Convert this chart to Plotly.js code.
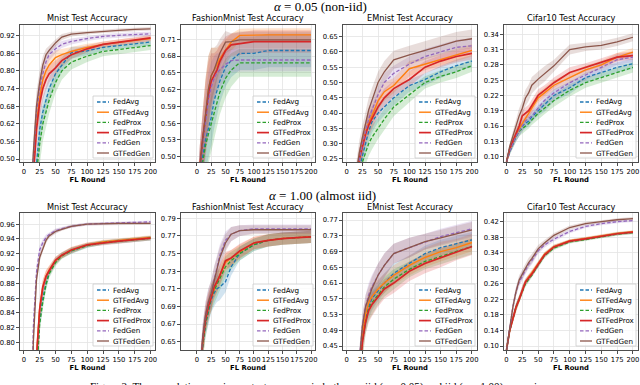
<!DOCTYPE html>
<html>
<head>
<meta charset="utf-8">
<script src="https://cdn.plot.ly/plotly-3.0.1.min.js"></script>
<style>body{margin:0;background:#fff}</style>
</head>
<body>
<div id="chart" style="width:640px;height:385px"></div>
<script>
const ROUNDS = [0, 5, 10, 15, 20, 25, 30, 35, 40, 50, 60, 75, 100, 125, 150, 175, 200];
const ROUND_TICKS = [0, 25, 50, 75, 100, 125, 150, 175, 200];

const SERIES = ['FedAvg', 'GTFedAvg', 'FedProx', 'GTFedProx', 'FedGen', 'GTFedGen'];
const TITLES = ['Mnist Test Accuracy', 'FashionMnist Test Accuracy', 'EMnist Test Accuracy', 'Cifar10 Test Accuracy'];

// ---- alpha = 0.05 (non-iid) : mean, one row per series ----
const mnistNonIid = [
  [0.10, 0.12, 0.18, 0.30, 0.48, 0.60, 0.66, 0.70, 0.74, 0.79, 0.82, 0.862, 0.868, 0.88, 0.886, 0.892, 0.898],
  [0.10, 0.15, 0.25, 0.45, 0.62, 0.71, 0.77, 0.80, 0.82, 0.845, 0.855, 0.866, 0.88, 0.89, 0.897, 0.903, 0.91],
  [0.10, 0.12, 0.16, 0.28, 0.45, 0.55, 0.62, 0.66, 0.70, 0.76, 0.80, 0.83, 0.85, 0.866, 0.873, 0.879, 0.886],
  [0.10, 0.15, 0.24, 0.44, 0.60, 0.69, 0.74, 0.77, 0.79, 0.81, 0.835, 0.855, 0.875, 0.89, 0.898, 0.905, 0.912],
  [0.10, 0.15, 0.28, 0.50, 0.66, 0.74, 0.79, 0.83, 0.855, 0.875, 0.89, 0.90, 0.91, 0.917, 0.921, 0.924, 0.926],
  [0.10, 0.16, 0.30, 0.52, 0.68, 0.76, 0.82, 0.855, 0.87, 0.895, 0.915, 0.925, 0.93, 0.935, 0.938, 0.941, 0.943]
];
const mnistNonIidStd = [
  [0.02, 0.03, 0.05, 0.06, 0.07, 0.06, 0.05, 0.045, 0.04, 0.03, 0.025, 0.02, 0.015, 0.012, 0.012, 0.012, 0.012],
  [0.02, 0.03, 0.05, 0.06, 0.06, 0.05, 0.04, 0.03, 0.03, 0.025, 0.02, 0.015, 0.012, 0.01, 0.01, 0.01, 0.01],
  [0.02, 0.03, 0.05, 0.06, 0.07, 0.07, 0.06, 0.05, 0.045, 0.035, 0.03, 0.025, 0.02, 0.016, 0.015, 0.015, 0.015],
  [0.02, 0.03, 0.05, 0.06, 0.06, 0.05, 0.04, 0.035, 0.03, 0.025, 0.02, 0.015, 0.012, 0.01, 0.01, 0.01, 0.01],
  [0.02, 0.03, 0.05, 0.05, 0.05, 0.04, 0.03, 0.025, 0.02, 0.015, 0.012, 0.01, 0.008, 0.008, 0.008, 0.008, 0.008],
  [0.02, 0.03, 0.05, 0.05, 0.05, 0.04, 0.03, 0.02, 0.015, 0.012, 0.01, 0.008, 0.006, 0.006, 0.006, 0.006, 0.006]
];

const fmnistNonIid = [
  [0.40, 0.47, 0.50, 0.53, 0.55, 0.57, 0.60, 0.62, 0.635, 0.66, 0.672, 0.685, 0.685, 0.69, 0.69, 0.69, 0.69],
  [0.40, 0.48, 0.53, 0.58, 0.62, 0.645, 0.655, 0.665, 0.675, 0.69, 0.705, 0.717, 0.718, 0.718, 0.718, 0.718, 0.718],
  [0.40, 0.46, 0.49, 0.52, 0.54, 0.56, 0.58, 0.60, 0.615, 0.64, 0.655, 0.668, 0.668, 0.668, 0.668, 0.668, 0.668],
  [0.40, 0.48, 0.53, 0.575, 0.61, 0.635, 0.645, 0.655, 0.67, 0.69, 0.70, 0.702, 0.706, 0.706, 0.706, 0.706, 0.706],
  [0.40, 0.48, 0.52, 0.56, 0.60, 0.625, 0.64, 0.65, 0.655, 0.665, 0.672, 0.673, 0.673, 0.673, 0.673, 0.673, 0.673],
  [0.40, 0.48, 0.53, 0.58, 0.62, 0.645, 0.655, 0.67, 0.685, 0.705, 0.706, 0.709, 0.709, 0.709, 0.709, 0.709, 0.709]
];
const fmnistNonIidStd = [
  [0.03, 0.04, 0.05, 0.05, 0.05, 0.05, 0.05, 0.045, 0.04, 0.035, 0.03, 0.03, 0.03, 0.03, 0.03, 0.03, 0.03],
  [0.03, 0.04, 0.05, 0.06, 0.06, 0.05, 0.04, 0.03, 0.025, 0.02, 0.015, 0.012, 0.012, 0.012, 0.012, 0.012, 0.012],
  [0.03, 0.04, 0.05, 0.05, 0.05, 0.05, 0.05, 0.045, 0.04, 0.035, 0.03, 0.025, 0.025, 0.025, 0.025, 0.025, 0.025],
  [0.03, 0.04, 0.05, 0.06, 0.06, 0.05, 0.04, 0.035, 0.03, 0.025, 0.02, 0.02, 0.02, 0.02, 0.02, 0.02, 0.02],
  [0.03, 0.04, 0.05, 0.05, 0.05, 0.045, 0.04, 0.035, 0.03, 0.025, 0.02, 0.02, 0.02, 0.02, 0.02, 0.02, 0.02],
  [0.03, 0.04, 0.05, 0.06, 0.06, 0.05, 0.04, 0.03, 0.025, 0.02, 0.015, 0.015, 0.015, 0.015, 0.015, 0.015, 0.015]
];

const emnistNonIid = [
  [0.05, 0.08, 0.12, 0.17, 0.22, 0.26, 0.30, 0.34, 0.37, 0.40, 0.42, 0.45, 0.49, 0.51, 0.535, 0.555, 0.57],
  [0.05, 0.08, 0.13, 0.19, 0.25, 0.30, 0.34, 0.37, 0.39, 0.44, 0.47, 0.49, 0.545, 0.56, 0.575, 0.59, 0.605],
  [0.05, 0.07, 0.11, 0.16, 0.21, 0.24, 0.27, 0.30, 0.32, 0.35, 0.38, 0.42, 0.46, 0.50, 0.52, 0.535, 0.555],
  [0.05, 0.08, 0.13, 0.19, 0.25, 0.29, 0.33, 0.36, 0.38, 0.42, 0.45, 0.48, 0.51, 0.55, 0.57, 0.585, 0.595],
  [0.05, 0.08, 0.13, 0.19, 0.25, 0.30, 0.34, 0.38, 0.41, 0.46, 0.50, 0.53, 0.56, 0.585, 0.60, 0.615, 0.62],
  [0.05, 0.09, 0.14, 0.20, 0.27, 0.32, 0.37, 0.41, 0.44, 0.50, 0.535, 0.574, 0.59, 0.606, 0.62, 0.635, 0.643]
];
const emnistNonIidStd = [
  [0.01, 0.02, 0.03, 0.03, 0.035, 0.035, 0.035, 0.035, 0.035, 0.03, 0.03, 0.025, 0.02, 0.02, 0.02, 0.02, 0.02],
  [0.01, 0.02, 0.03, 0.03, 0.035, 0.035, 0.035, 0.035, 0.035, 0.03, 0.03, 0.025, 0.025, 0.02, 0.02, 0.02, 0.02],
  [0.01, 0.02, 0.03, 0.03, 0.035, 0.035, 0.04, 0.04, 0.04, 0.035, 0.035, 0.03, 0.025, 0.02, 0.02, 0.02, 0.02],
  [0.01, 0.02, 0.03, 0.03, 0.035, 0.035, 0.035, 0.035, 0.035, 0.03, 0.03, 0.025, 0.025, 0.02, 0.02, 0.02, 0.02],
  [0.01, 0.02, 0.03, 0.03, 0.035, 0.035, 0.035, 0.035, 0.035, 0.03, 0.03, 0.025, 0.025, 0.025, 0.025, 0.025, 0.025],
  [0.01, 0.02, 0.03, 0.035, 0.04, 0.04, 0.04, 0.04, 0.04, 0.035, 0.035, 0.03, 0.03, 0.03, 0.03, 0.03, 0.03]
];

const cifarNonIid = [
  [0.09, 0.11, 0.125, 0.14, 0.15, 0.16, 0.165, 0.17, 0.178, 0.19, 0.20, 0.22, 0.235, 0.255, 0.265, 0.275, 0.282],
  [0.09, 0.115, 0.13, 0.145, 0.155, 0.165, 0.175, 0.185, 0.195, 0.215, 0.225, 0.24, 0.255, 0.27, 0.28, 0.295, 0.305],
  [0.09, 0.11, 0.125, 0.14, 0.15, 0.155, 0.16, 0.165, 0.172, 0.185, 0.195, 0.21, 0.23, 0.245, 0.255, 0.265, 0.275],
  [0.09, 0.115, 0.13, 0.145, 0.16, 0.18, 0.185, 0.19, 0.20, 0.22, 0.23, 0.245, 0.265, 0.275, 0.285, 0.295, 0.298],
  [0.09, 0.11, 0.125, 0.14, 0.15, 0.16, 0.17, 0.175, 0.18, 0.195, 0.21, 0.225, 0.245, 0.26, 0.275, 0.29, 0.295],
  [0.09, 0.12, 0.14, 0.16, 0.18, 0.195, 0.215, 0.225, 0.24, 0.252, 0.262, 0.278, 0.31, 0.315, 0.318, 0.325, 0.334]
];
const cifarNonIidStd = [
  [0.003, 0.006, 0.008, 0.01, 0.01, 0.01, 0.01, 0.01, 0.01, 0.01, 0.012, 0.012, 0.012, 0.01, 0.01, 0.01, 0.01],
  [0.003, 0.006, 0.008, 0.01, 0.01, 0.01, 0.01, 0.01, 0.01, 0.01, 0.01, 0.01, 0.01, 0.008, 0.008, 0.008, 0.008],
  [0.003, 0.006, 0.008, 0.01, 0.01, 0.01, 0.01, 0.01, 0.01, 0.012, 0.012, 0.012, 0.012, 0.01, 0.01, 0.01, 0.01],
  [0.003, 0.006, 0.008, 0.01, 0.01, 0.012, 0.012, 0.012, 0.012, 0.012, 0.01, 0.01, 0.01, 0.008, 0.008, 0.008, 0.008],
  [0.003, 0.006, 0.008, 0.01, 0.01, 0.01, 0.01, 0.01, 0.01, 0.01, 0.012, 0.012, 0.01, 0.01, 0.01, 0.01, 0.01],
  [0.003, 0.006, 0.01, 0.012, 0.015, 0.015, 0.016, 0.016, 0.016, 0.015, 0.015, 0.012, 0.01, 0.008, 0.008, 0.008, 0.008]
];

// ---- alpha = 1.00 (almost iid) ----
const mnistIid = [
  [0.10, 0.20, 0.40, 0.60, 0.76, 0.83, 0.86, 0.88, 0.895, 0.91, 0.918, 0.924, 0.931, 0.935, 0.937, 0.939, 0.941],
  [0.10, 0.22, 0.45, 0.65, 0.78, 0.845, 0.875, 0.89, 0.898, 0.911, 0.918, 0.925, 0.932, 0.936, 0.938, 0.94, 0.942],
  [0.10, 0.20, 0.40, 0.58, 0.75, 0.825, 0.855, 0.878, 0.893, 0.908, 0.917, 0.924, 0.931, 0.935, 0.937, 0.939, 0.941],
  [0.10, 0.22, 0.45, 0.65, 0.78, 0.845, 0.875, 0.889, 0.897, 0.911, 0.918, 0.925, 0.932, 0.935, 0.937, 0.939, 0.941],
  [0.10, 0.30, 0.60, 0.82, 0.895, 0.925, 0.935, 0.942, 0.946, 0.951, 0.954, 0.957, 0.96, 0.961, 0.962, 0.962, 0.963],
  [0.10, 0.30, 0.58, 0.80, 0.885, 0.915, 0.928, 0.938, 0.944, 0.95, 0.953, 0.957, 0.96, 0.961, 0.961, 0.961, 0.961]
];
const mnistIidStd = [
  [0.01, 0.02, 0.03, 0.03, 0.02, 0.012, 0.01, 0.008, 0.006, 0.005, 0.004, 0.004, 0.003, 0.003, 0.003, 0.003, 0.003],
  [0.01, 0.02, 0.03, 0.03, 0.02, 0.012, 0.01, 0.008, 0.006, 0.005, 0.004, 0.004, 0.003, 0.003, 0.003, 0.003, 0.003],
  [0.01, 0.02, 0.03, 0.03, 0.02, 0.012, 0.01, 0.008, 0.006, 0.005, 0.004, 0.004, 0.003, 0.003, 0.003, 0.003, 0.003],
  [0.01, 0.02, 0.03, 0.03, 0.02, 0.012, 0.01, 0.008, 0.006, 0.005, 0.004, 0.004, 0.003, 0.003, 0.003, 0.003, 0.003],
  [0.01, 0.02, 0.03, 0.02, 0.01, 0.006, 0.005, 0.004, 0.003, 0.003, 0.002, 0.002, 0.002, 0.002, 0.002, 0.002, 0.002],
  [0.01, 0.02, 0.03, 0.02, 0.01, 0.006, 0.005, 0.004, 0.003, 0.003, 0.002, 0.002, 0.002, 0.002, 0.002, 0.002, 0.002]
];

const fmnistIid = [
  [0.55, 0.60, 0.645, 0.67, 0.685, 0.698, 0.705, 0.71, 0.712, 0.718, 0.735, 0.75, 0.76, 0.765, 0.767, 0.768, 0.769],
  [0.55, 0.60, 0.65, 0.675, 0.69, 0.70, 0.71, 0.718, 0.725, 0.74, 0.745, 0.752, 0.762, 0.765, 0.767, 0.768, 0.769],
  [0.55, 0.60, 0.645, 0.67, 0.687, 0.70, 0.708, 0.715, 0.72, 0.735, 0.742, 0.75, 0.76, 0.765, 0.767, 0.768, 0.769],
  [0.55, 0.60, 0.65, 0.675, 0.69, 0.70, 0.712, 0.718, 0.725, 0.742, 0.745, 0.753, 0.762, 0.765, 0.767, 0.768, 0.769],
  [0.55, 0.61, 0.655, 0.68, 0.695, 0.705, 0.72, 0.735, 0.748, 0.765, 0.772, 0.776, 0.778, 0.778, 0.778, 0.778, 0.778],
  [0.55, 0.61, 0.655, 0.68, 0.695, 0.705, 0.72, 0.732, 0.745, 0.762, 0.772, 0.776, 0.777, 0.777, 0.777, 0.777, 0.777]
];
const fmnistIidStd = [
  [0.02, 0.02, 0.015, 0.015, 0.015, 0.015, 0.015, 0.015, 0.015, 0.012, 0.01, 0.008, 0.007, 0.007, 0.007, 0.007, 0.007],
  [0.02, 0.02, 0.015, 0.015, 0.015, 0.015, 0.012, 0.012, 0.012, 0.01, 0.009, 0.008, 0.007, 0.007, 0.007, 0.007, 0.007],
  [0.02, 0.02, 0.015, 0.015, 0.015, 0.015, 0.015, 0.015, 0.013, 0.012, 0.01, 0.008, 0.007, 0.007, 0.007, 0.007, 0.007],
  [0.02, 0.02, 0.015, 0.015, 0.015, 0.015, 0.012, 0.012, 0.012, 0.01, 0.009, 0.008, 0.007, 0.007, 0.007, 0.007, 0.007],
  [0.02, 0.02, 0.015, 0.015, 0.015, 0.015, 0.015, 0.013, 0.012, 0.01, 0.008, 0.006, 0.005, 0.005, 0.005, 0.005, 0.005],
  [0.02, 0.02, 0.015, 0.015, 0.015, 0.015, 0.015, 0.013, 0.012, 0.01, 0.008, 0.006, 0.005, 0.005, 0.005, 0.005, 0.005]
];

const emnistIid = [
  [0.05, 0.10, 0.18, 0.30, 0.40, 0.48, 0.52, 0.55, 0.57, 0.59, 0.61, 0.635, 0.66, 0.685, 0.70, 0.71, 0.72],
  [0.05, 0.10, 0.18, 0.30, 0.40, 0.48, 0.53, 0.56, 0.575, 0.595, 0.61, 0.63, 0.655, 0.675, 0.69, 0.70, 0.713],
  [0.05, 0.10, 0.17, 0.28, 0.38, 0.46, 0.51, 0.545, 0.56, 0.58, 0.60, 0.62, 0.645, 0.665, 0.678, 0.69, 0.703],
  [0.05, 0.10, 0.17, 0.28, 0.38, 0.46, 0.51, 0.54, 0.555, 0.575, 0.595, 0.61, 0.64, 0.66, 0.675, 0.69, 0.703],
  [0.05, 0.10, 0.19, 0.32, 0.42, 0.50, 0.55, 0.58, 0.60, 0.63, 0.655, 0.685, 0.70, 0.715, 0.728, 0.738, 0.748],
  [0.05, 0.10, 0.19, 0.32, 0.42, 0.50, 0.55, 0.575, 0.595, 0.63, 0.655, 0.685, 0.70, 0.715, 0.725, 0.735, 0.745]
];
const emnistIidStd = [
  [0.01, 0.02, 0.03, 0.03, 0.03, 0.03, 0.03, 0.03, 0.03, 0.025, 0.025, 0.025, 0.02, 0.02, 0.02, 0.02, 0.02],
  [0.01, 0.02, 0.03, 0.03, 0.03, 0.03, 0.03, 0.03, 0.03, 0.025, 0.025, 0.025, 0.025, 0.025, 0.025, 0.022, 0.022],
  [0.01, 0.02, 0.03, 0.03, 0.03, 0.03, 0.03, 0.03, 0.03, 0.025, 0.025, 0.025, 0.02, 0.02, 0.02, 0.02, 0.02],
  [0.01, 0.02, 0.03, 0.03, 0.03, 0.03, 0.03, 0.03, 0.03, 0.025, 0.025, 0.025, 0.025, 0.025, 0.025, 0.022, 0.022],
  [0.01, 0.02, 0.03, 0.03, 0.03, 0.03, 0.03, 0.03, 0.03, 0.03, 0.03, 0.025, 0.025, 0.02, 0.02, 0.02, 0.02],
  [0.01, 0.02, 0.03, 0.03, 0.03, 0.03, 0.03, 0.03, 0.03, 0.03, 0.03, 0.025, 0.025, 0.02, 0.02, 0.02, 0.02]
];

const cifarIid = [
  [0.09, 0.14, 0.17, 0.20, 0.22, 0.245, 0.265, 0.275, 0.285, 0.31, 0.335, 0.355, 0.37, 0.376, 0.383, 0.389, 0.393],
  [0.09, 0.14, 0.17, 0.20, 0.22, 0.245, 0.265, 0.278, 0.288, 0.312, 0.336, 0.356, 0.371, 0.377, 0.384, 0.39, 0.394],
  [0.09, 0.14, 0.17, 0.20, 0.22, 0.24, 0.26, 0.272, 0.282, 0.308, 0.332, 0.352, 0.368, 0.374, 0.381, 0.388, 0.392],
  [0.09, 0.14, 0.17, 0.20, 0.22, 0.245, 0.265, 0.275, 0.285, 0.31, 0.334, 0.355, 0.37, 0.376, 0.383, 0.389, 0.393],
  [0.09, 0.15, 0.20, 0.24, 0.265, 0.28, 0.295, 0.31, 0.32, 0.345, 0.36, 0.375, 0.395, 0.408, 0.415, 0.42, 0.423],
  [0.09, 0.15, 0.20, 0.24, 0.27, 0.285, 0.30, 0.315, 0.325, 0.35, 0.365, 0.385, 0.405, 0.415, 0.42, 0.425, 0.428]
];
const cifarIidStd = [
  [0.003, 0.008, 0.01, 0.01, 0.01, 0.01, 0.008, 0.008, 0.008, 0.007, 0.006, 0.005, 0.004, 0.004, 0.004, 0.004, 0.004],
  [0.003, 0.008, 0.01, 0.01, 0.01, 0.01, 0.008, 0.008, 0.008, 0.007, 0.006, 0.005, 0.004, 0.004, 0.004, 0.004, 0.004],
  [0.003, 0.008, 0.01, 0.01, 0.01, 0.01, 0.008, 0.008, 0.008, 0.007, 0.006, 0.005, 0.004, 0.004, 0.004, 0.004, 0.004],
  [0.003, 0.008, 0.01, 0.01, 0.01, 0.01, 0.008, 0.008, 0.008, 0.007, 0.006, 0.005, 0.004, 0.004, 0.004, 0.004, 0.004],
  [0.003, 0.008, 0.012, 0.012, 0.012, 0.012, 0.01, 0.01, 0.01, 0.008, 0.007, 0.006, 0.005, 0.004, 0.004, 0.004, 0.004],
  [0.003, 0.008, 0.012, 0.012, 0.012, 0.012, 0.012, 0.012, 0.012, 0.01, 0.008, 0.006, 0.005, 0.004, 0.004, 0.004, 0.004]
];

// matplotlib tab10 look
const COLORS = ['#1f77b4', '#ff7f0e', '#2ca02c', '#d62728', '#9467bd', '#8c564b'];
const BANDS = ['rgba(31,119,180,0.2)', 'rgba(255,127,14,0.2)', 'rgba(44,160,44,0.2)',
               'rgba(214,39,40,0.2)', 'rgba(148,103,189,0.2)', 'rgba(140,86,75,0.2)'];
const DASH = ['3.5px,2px', 'solid', '3.5px,2px', 'solid', '3.5px,2px', 'solid'];
const WIDTH = [1.3, 1.4, 1.3, 1.7, 1.3, 1.3];

const W = 640, H = 385;
const px = x => x / W;
const py = y => 1 - y / H;

// plot boxes in pixels
const COL_X = [[20, 155], [181, 315], [343, 477], [504, 638]];
const ROW_Y = [[25, 162], [213, 350]];
const X_RANGE = [[-6, 207], [-28, 207], [-6, 208], [-4, 208]];

const PANELS = [
  {mean: mnistNonIid, std: mnistNonIidStd, row: 0, col: 0, yr: [0.49, 0.956], t0: 0.50, dt: 0.06},
  {mean: fmnistNonIid, std: fmnistNonIidStd, row: 0, col: 1, yr: [0.4905, 0.7356], t0: 0.50, dt: 0.03},
  {mean: emnistNonIid, std: emnistNonIidStd, row: 0, col: 2, yr: [0.240, 0.688], t0: 0.25, dt: 0.05},
  {mean: cifarNonIid, std: cifarNonIidStd, row: 0, col: 3, yr: [0.0896, 0.358], t0: 0.10, dt: 0.03},
  {mean: mnistIid, std: mnistIidStd, row: 1, col: 0, yr: [0.790, 0.975], t0: 0.80, dt: 0.02},
  {mean: fmnistIid, std: fmnistIidStd, row: 1, col: 1, yr: [0.6406, 0.796], t0: 0.65, dt: 0.02},
  {mean: emnistIid, std: emnistIidStd, row: 1, col: 2, yr: [0.44, 0.788], t0: 0.45, dt: 0.04},
  {mean: cifarIid, std: cifarIidStd, row: 1, col: 3, yr: [0.0897, 0.4424], t0: 0.10, dt: 0.04}
];

const FONT = 'DejaVu Sans, sans-serif';
const traces = [];
const shapes = [];
const annotations = [];
const layout = {
  width: W, height: H, autosize: false,
  margin: {l: 0, r: 0, t: 0, b: 0},
  paper_bgcolor: '#fff', plot_bgcolor: '#fff',
  showlegend: false,
  font: {family: FONT, color: '#000'}
};

PANELS.forEach((p, k) => {
  const id = k === 0 ? '' : String(k + 1);
  const [x0, x1] = COL_X[p.col];
  const [y0, y1] = ROW_Y[p.row];

  // shaded bands first, lines on top
  SERIES.forEach((name, s) => {
    const upper = p.mean[s].map((v, i) => v + p.std[s][i]);
    const lower = p.mean[s].map((v, i) => v - p.std[s][i]);
    traces.push({
      x: ROUNDS.concat(ROUNDS.slice().reverse()),
      y: upper.concat(lower.reverse()),
      xaxis: 'x' + id, yaxis: 'y' + id,
      mode: 'lines', fill: 'toself', fillcolor: BANDS[s],
      line: {width: 0}, hoverinfo: 'skip', showlegend: false
    });
  });
  SERIES.forEach((name, s) => {
    traces.push({
      x: ROUNDS, y: p.mean[s], name: name,
      xaxis: 'x' + id, yaxis: 'y' + id,
      mode: 'lines',
      line: {color: COLORS[s], width: WIDTH[s], dash: DASH[s]}
    });
  });

  const common = {
    showline: true, mirror: true, linecolor: '#222', linewidth: 0.8,
    ticks: 'outside', ticklen: 3, tickwidth: 0.8, tickcolor: '#222',
    showgrid: true, gridcolor: '#e4e4e4', gridwidth: 0.8,
    zeroline: false, tickangle: 0, tickfont: {size: 6.8, family: FONT}
  };
  layout['xaxis' + id] = Object.assign({}, common, {
    domain: [px(x0), px(x1)], anchor: 'y' + id,
    range: X_RANGE[p.col], tickmode: 'array', tickvals: ROUND_TICKS,
    title: {text: '<b>FL Round</b>', font: {size: 6.8, family: FONT}, standoff: 2}
  });
  layout['yaxis' + id] = Object.assign({}, common, {
    domain: [py(y1), py(y0)], anchor: 'x' + id,
    range: p.yr, tick0: p.t0, dtick: p.dt, tickformat: '.2f'
  });

  // subplot title
  annotations.push({
    xref: 'paper', yref: 'paper', x: px((x0 + x1) / 2), y: py(y0 - 6.5),
    text: TITLES[p.col], showarrow: false, xanchor: 'center', yanchor: 'middle',
    font: {size: 8.2, family: FONT, color: '#000'}
  });

  // legend box in the lower right corner
  shapes.push({
    type: 'rect', xref: 'paper', yref: 'paper', layer: 'above',
    x0: px(x1 - 62), x1: px(x1 - 2), y0: py(y1 - 4), y1: py(y1 - 66),
    fillcolor: 'rgba(255,255,255,0.8)', line: {color: '#cccccc', width: 0.8}
  });
  SERIES.forEach((name, s) => {
    const yc = y1 - 60 + 10.2 * s;
    shapes.push({
      type: 'line', xref: 'paper', yref: 'paper', layer: 'above',
      x0: px(x1 - 58), x1: px(x1 - 46), y0: py(yc), y1: py(yc),
      line: {color: COLORS[s], width: WIDTH[s], dash: DASH[s]}
    });
    annotations.push({
      xref: 'paper', yref: 'paper', x: px(x1 - 44), y: py(yc),
      text: name, showarrow: false, xanchor: 'left', yanchor: 'middle',
      font: {size: 7.2, family: FONT, color: '#000'}
    });
  });
});

// row headings and the (cut off) figure caption
const SERIF = 'Liberation Serif, serif';
annotations.push({
  xref: 'paper', yref: 'paper', x: px(320), y: py(6), text: '<i>α</i> = 0.05 (non-iid)',
  showarrow: false, xanchor: 'center', yanchor: 'middle', font: {size: 13, family: SERIF, color: '#000'}
});
annotations.push({
  xref: 'paper', yref: 'paper', x: px(322), y: py(196), text: '<i>α</i> = 1.00 (almost iid)',
  showarrow: false, xanchor: 'center', yanchor: 'middle', font: {size: 13, family: SERIF, color: '#000'}
});
annotations.push({
  xref: 'paper', yref: 'paper', x: px(320), y: py(378),
  text: 'Figure 2: The cumulative maximum test accuracy in both non-iid (<i>α</i> = 0.05) and iid (<i>α</i> = 1.00) scenarios.',
  showarrow: false, xanchor: 'center', yanchor: 'top', font: {size: 11, family: SERIF, color: '#000'}
});

layout.shapes = shapes;
layout.annotations = annotations;

Plotly.newPlot('chart', traces, layout, {staticPlot: true, displayModeBar: false});
</script>
</body>
</html>
